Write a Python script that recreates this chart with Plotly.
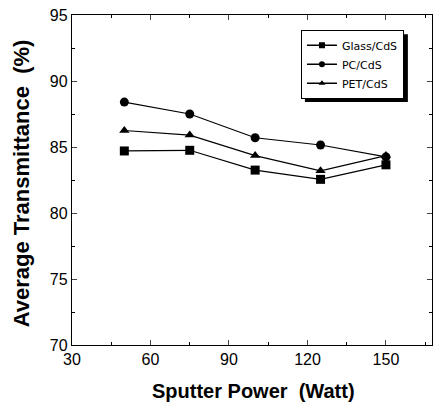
import plotly.graph_objects as go

power = [50, 75, 100, 125, 150]
glass_cds = [84.7, 84.75, 83.25, 82.55, 83.65]
pc_cds = [88.4, 87.5, 85.7, 85.15, 84.25]
pet_cds = [86.25, 85.9, 84.35, 83.2, 84.35]

x_ticks = [30, 60, 90, 120, 150]
y_ticks = [70, 75, 80, 85, 90, 95]

series_names = ["Glass/CdS", "PC/CdS", "PET/CdS"]
series_values = [glass_cds, pc_cds, pet_cds]
symbols = ["square", "circle", "triangle-up"]

fig = go.Figure()
for name, ys, sym in zip(series_names, series_values, symbols):
    fig.add_trace(go.Scatter(x=power, y=ys, name=name, mode="lines+markers",
                             showlegend=False,
                             line=dict(color="black", width=1.2),
                             marker=dict(symbol=sym, size=9, color="black")))
# legend entries (smaller symbols, as in the reference)
for name, sym in zip(series_names, symbols):
    fig.add_trace(go.Scatter(x=[None], y=[None], name=name, mode="lines+markers",
                             line=dict(color="black", width=1.5),
                             marker=dict(symbol=sym, size=6, color="black")))

L, R, T, B = 72, 3, 15, 60
fig.update_layout(
    width=435, height=405,
    margin=dict(l=L, r=R, t=T, b=B),
    paper_bgcolor="white", plot_bgcolor="white",
    font=dict(family="Liberation Sans Narrow, Arial Narrow, Liberation Sans, Arial",
              color="black", size=16),
    showlegend=True,
    legend=dict(x=0.636, y=0.955, xanchor="left", yanchor="top",
                bgcolor="white", bordercolor="black", borderwidth=1,
                font=dict(size=11, family="DejaVu Sans"),
                itemwidth=30, tracegroupgap=0),
    annotations=[
        dict(text="<b>Sputter Power  (Watt)</b>", xref="paper", yref="paper",
             x=0.503, y=0, xanchor="center", yanchor="middle", yshift=-46,
             showarrow=False, font=dict(family="Liberation Sans, Arial", size=20)),
        dict(text="<b>Average Transmittance  (%)</b>", xref="paper", yref="paper",
             x=0, y=0.49, xanchor="center", yanchor="middle", xshift=-51,
             textangle=-90, showarrow=False,
             font=dict(family="Liberation Sans, Arial", size=22)),
    ],
)
fig.update_xaxes(range=[30, 167.6], tickvals=x_ticks, ticks="inside", ticklen=5,
                 showline=True, linecolor="black", linewidth=1.3, mirror="ticks",
                 showgrid=False, zeroline=False, automargin=False,
                 minor=dict(dtick=15, ticks="inside", ticklen=3, tickcolor="black"))
fig.update_yaxes(range=[70, 95], tickvals=y_ticks, ticks="inside", ticklen=5,
                 showline=True, linecolor="black", linewidth=1.3, mirror="ticks",
                 showgrid=False, zeroline=False, automargin=False,
                 minor=dict(dtick=2.5, ticks="inside", ticklen=3, tickcolor="black"))

# legend drop shadow
fig.add_shape(type="rect", xref="paper", yref="paper",
              x0=0.647, x1=0.933, y0=0.736, y1=0.942,
              fillcolor="black", line=dict(width=0), layer="above")

fig.write_html("out.html", config={"displayModeBar": False},
               post_script="document.body.style.margin='0';document.body.style.overflow='hidden';")
